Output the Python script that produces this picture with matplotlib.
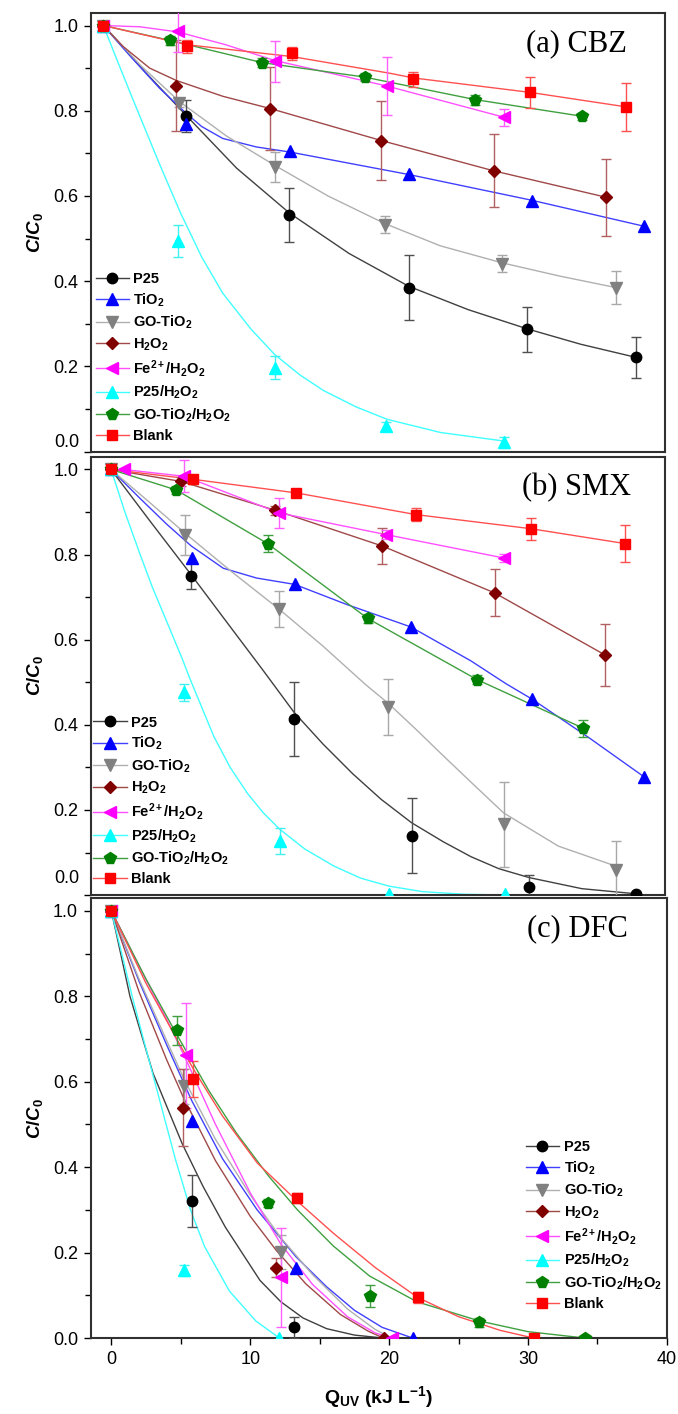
import numpy as np
import matplotlib.pyplot as plt
from matplotlib.lines import Line2D
from matplotlib.ticker import MultipleLocator

plt.rcParams['font.family'] = ['Liberation Sans', 'DejaVu Sans']
plt.rcParams['mathtext.fontset'] = 'custom'
plt.rcParams['mathtext.rm'] = 'Liberation Sans:bold'
plt.rcParams['mathtext.bf'] = 'Liberation Sans:bold'
plt.rcParams['mathtext.it'] = 'Liberation Sans:italic:bold'
plt.rcParams['mathtext.default'] = 'bf'

# series, in legend order
labels = ['P25', 'TiO$_2$', 'GO-TiO$_2$', 'H$_2$O$_2$', 'Fe$^{2+}$/H$_2$O$_2$',
          'P25/H$_2$O$_2$', 'GO-TiO$_2$/H$_2$O$_2$', 'Blank']
markers = ['o', '^', 'v', 'D', '<', '^', 'p', 's']
msizes = [7.5, 8, 8, 6.5, 8, 8, 8.5, 6.5]
mcolors = ['#000000', '#0000ff', '#808080', '#800000', '#ff00ff', '#00ffff', '#008000', '#ff0000']
lcolors = ['#404040', '#4040ff', '#b0b0b0', '#a04848', '#ff50ff', '#40ffff', '#40a040', '#ff5050']
ecolors = ['#505050', '#6060ff', '#a8a8a8', '#b06060', '#ff60ff', '#40f0f0', '#40a040', '#ff5050']

# ---------------- (a) CBZ ----------------
cbz_x = [[0, 5.87, 13.25, 21.75, 30.2, 37.96],
         [0, 5.87, 13.3, 21.8, 30.5, 38.5],
         [0, 5.4, 12.2, 20.06, 28.4, 36.5],
         [0, 5.2, 11.9, 19.8, 27.8, 35.8],
         [0, 5.3, 12.2, 20.2, 28.5],
         [0, 5.35, 12.2, 20.1, 28.5],
         [0, 4.75, 11.3, 18.6, 26.5, 34.1],
         [0, 5.94, 13.46, 22.08, 30.4, 37.25]]
cbz_y = [[1.0, 0.787, 0.555, 0.385, 0.287, 0.221],
         [1.0, 0.77, 0.705, 0.652, 0.589, 0.529],
         [1.0, 0.818, 0.668, 0.533, 0.441, 0.385],
         [1.0, 0.859, 0.805, 0.73, 0.659, 0.597],
         [1.0, 0.988, 0.916, 0.859, 0.785],
         [1.0, 0.494, 0.197, 0.06, 0.0215],
         [1.0, 0.965, 0.913, 0.879, 0.826, 0.787],
         [1.0, 0.951, 0.935, 0.874, 0.843, 0.809]]
cbz_err = [[0, 0.038, 0.064, 0.076, 0.053, 0.048],
           [0, 0, 0, 0, 0, 0],
           [0, 0.01, 0.035, 0.02, 0.02, 0.038],
           [0, 0.107, 0.097, 0.093, 0.086, 0.09],
           [0, 0.05, 0.048, 0.068, 0.02],
           [0, 0.037, 0.027, 0.01, 0.013],
           [0, 0.01, 0.01, 0.01, 0.012, 0.008],
           [0, 0.015, 0.015, 0.018, 0.036, 0.056]]
cbz_fit_x = [[0, 3, 5.87, 9.5, 13.25, 17.5, 21.75, 26, 30.2, 34, 37.96],
             [0, 2, 4, 5.87, 7, 8.5, 10.9, 13.3, 21.8, 30.5, 38.5],
             [0, 2.7, 5.4, 8.8, 12.2, 16, 20.06, 24, 28.4, 32.5, 36.5],
             [0, 1.4, 3.3, 5.2, 8.5, 11.9, 19.8, 27.8, 35.8],
             [0, 2.6, 5.3, 8.7, 12.2, 20.2, 28.5],
             [0, 1, 2, 3, 4, 5.5, 7, 8.5, 10.5, 12.2, 14, 15.7, 18, 20.2, 24, 28.5],
             [0, 4.75, 11.3, 18.6, 26.5, 34.1],
             [0, 5.94, 13.46, 20.4, 22.08, 30.4, 37.25]]
cbz_fit_y = [[1.0, 0.89, 0.79, 0.665, 0.56, 0.465, 0.388, 0.333, 0.288, 0.252, 0.221],
             [1.0, 0.925, 0.853, 0.795, 0.763, 0.735, 0.715, 0.703, 0.65, 0.59, 0.529],
             [1.0, 0.905, 0.822, 0.74, 0.672, 0.6, 0.535, 0.483, 0.443, 0.412, 0.385],
             [1.0, 0.951, 0.9, 0.871, 0.834, 0.805, 0.73, 0.659, 0.597],
             [1.0, 0.997, 0.985, 0.955, 0.918, 0.858, 0.785],
             [1.0, 0.917, 0.835, 0.755, 0.675, 0.56, 0.457, 0.372, 0.288, 0.228, 0.18, 0.143, 0.105, 0.076, 0.045, 0.025],
             [1.0, 0.965, 0.913, 0.879, 0.826, 0.787],
             [1.0, 0.955, 0.927, 0.888, 0.877, 0.843, 0.809]]

# ---------------- (b) SMX ----------------
smx_x = [[0, 5.8, 13.2, 21.7, 30.2, 37.94],
         [0, 5.87, 13.26, 21.65, 30.42, 38.48],
         [0, 5.35, 12.13, 20.0, 28.35, 36.45],
         [0, 5.04, 11.87, 19.6, 27.7, 35.68],
         [0.9, 5.3, 12.13, 19.86, 28.37],
         [0, 5.27, 12.17, 20.06, 28.45],
         [0, 4.7, 11.3, 18.53, 26.45, 34.1],
         [0, 5.9, 13.38, 22.01, 30.29, 37.1]]
smx_y = [[1.0, 0.75, 0.414, 0.139, 0.018, 0.003],
         [1.0, 0.792, 0.732, 0.631, 0.46, 0.278],
         [1.0, 0.845, 0.672, 0.442, 0.166, 0.06],
         [1.0, 0.972, 0.904, 0.82, 0.71, 0.564],
         [1.0, 0.984, 0.898, 0.847, 0.792],
         [1.0, 0.476, 0.127, 0.003, 0.003],
         [1.0, 0.952, 0.826, 0.65, 0.506, 0.392],
         [1.0, 0.977, 0.945, 0.894, 0.861, 0.826]]
smx_err = [[0, 0.031, 0.087, 0.088, 0.03, 0],
           [0, 0, 0, 0, 0, 0],
           [0, 0.047, 0.042, 0.066, 0.1, 0.068],
           [0, 0.01, 0.01, 0.043, 0.055, 0.072],
           [0, 0.038, 0.035, 0.01, 0.01],
           [0, 0.02, 0.03, 0, 0],
           [0, 0.01, 0.02, 0.01, 0.01, 0.02],
           [0, 0.01, 0.01, 0.016, 0.026, 0.044]]
smx_fit_x = [[0, 2.9, 5.8, 8.5, 11, 13.2, 15.3, 17.45, 19.5, 21.7, 24, 26, 28, 30.2, 34, 37.9],
             [0, 2, 4, 5.8, 8.1, 10.5, 13.26, 17, 21.65, 26, 28.5, 30.42, 34.5, 38.48],
             [0, 2.7, 5.35, 8.7, 12.13, 15.3, 18.4, 20, 22, 24, 26, 28.35, 32.3, 36.45],
             [0, 5.04, 11.87, 19.6, 27.7, 35.68],
             [0.9, 5.3, 12.13, 19.86, 28.37],
             [0, 1, 2.1, 3, 4.03, 5.14, 5.7, 6.5, 7.43, 8.6, 9.87, 11, 12.17, 14, 16.1, 18, 20.06, 22.5, 25.5, 28.45],
             [0, 4.7, 11.3, 18.53, 26.45, 34.1],
             [0, 5.9, 13.38, 22.01, 30.29, 37.1]]
smx_fit_y = [[1.0, 0.875, 0.752, 0.635, 0.527, 0.43, 0.355, 0.285, 0.225, 0.17, 0.125, 0.09, 0.062, 0.041, 0.015, 0.003],
             [1.0, 0.935, 0.872, 0.82, 0.768, 0.745, 0.73, 0.683, 0.63, 0.55, 0.497, 0.46, 0.37, 0.278],
             [1.0, 0.925, 0.85, 0.76, 0.672, 0.585, 0.494, 0.451, 0.39, 0.327, 0.265, 0.193, 0.115, 0.068],
             [1.0, 0.972, 0.904, 0.82, 0.71, 0.564],
             [1.0, 0.984, 0.898, 0.847, 0.792],
             [1.0, 0.9, 0.8, 0.722, 0.642, 0.555, 0.508, 0.445, 0.372, 0.3, 0.238, 0.193, 0.155, 0.108, 0.068, 0.04, 0.021, 0.008, 0.002, 0.0],
             [1.0, 0.952, 0.826, 0.65, 0.506, 0.392],
             [1.0, 0.977, 0.945, 0.894, 0.861, 0.826]]

# ---------------- (c) DFC ----------------
dfc_x = [[0, 5.78, 13.16],
         [0, 5.8, 13.3, 21.7],
         [0, 5.25, 12.2],
         [0, 5.16, 11.88, 19.6],
         [0, 5.4, 12.2, 20.2],
         [0, 5.25, 12.1],
         [0, 4.72, 11.3, 18.6, 26.5, 34.1],
         [0, 5.9, 13.4, 22.06, 30.4]]
dfc_y = [[1.0, 0.32, 0.025],
         [1.0, 0.509, 0.163, 0.0],
         [1.0, 0.589, 0.202],
         [1.0, 0.539, 0.165, 0.0],
         [1.0, 0.662, 0.142, 0.0],
         [1.0, 0.159, 0.0],
         [1.0, 0.72, 0.316, 0.099, 0.037, 0.0],
         [1.0, 0.607, 0.328, 0.096, 0.0]]
dfc_err = [[0, 0.061, 0.025],
           [0, 0, 0, 0],
           [0, 0.04, 0.04],
           [0, 0.09, 0.022, 0],
           [0, 0.123, 0.115, 0],
           [0, 0.013, 0],
           [0, 0.035, 0.01, 0.026, 0.01, 0],
           [0, 0.042, 0.012, 0.013, 0]]
dfc_fit_x = [[0, 1.34, 3, 5.1, 6.6, 8.2, 10.7, 12.2, 13.8, 15.5, 17.5, 19.6],
             [0, 2, 4, 5.8, 8, 10.5, 13.3, 15.5, 17.5, 19.5, 21.7],
             [0, 2, 4, 5.25, 7.5, 10, 12.2, 14.5, 17, 19, 20.2],
             [0, 2, 4, 5.16, 7.5, 10, 11.88, 14, 16.5, 18.5, 19.6],
             [0, 2, 4, 5.4, 7.5, 10, 12.2, 14.5, 17, 19, 20.2],
             [0, 1.5, 3, 4.6, 5.7, 6.7, 8.5, 10.4, 12.1],
             [0, 2.5, 4.72, 7, 9, 11.3, 13.4, 16, 18.6, 22, 26.5, 30, 34.1],
             [0, 2.5, 5.9, 8, 10.5, 13.4, 16, 19, 22.06, 25, 28, 30.4]]
dfc_fit_y = [[1.0, 0.8, 0.62, 0.455, 0.355, 0.26, 0.135, 0.085, 0.047, 0.022, 0.007, 0.0],
             [1.0, 0.835, 0.685, 0.555, 0.42, 0.3, 0.19, 0.12, 0.065, 0.025, 0.0],
             [1.0, 0.84, 0.695, 0.605, 0.465, 0.335, 0.235, 0.148, 0.068, 0.02, 0.0],
             [1.0, 0.81, 0.65, 0.565, 0.415, 0.285, 0.205, 0.127, 0.055, 0.016, 0.0],
             [1.0, 0.87, 0.745, 0.65, 0.5, 0.34, 0.22, 0.125, 0.05, 0.012, 0.0],
             [1.0, 0.8, 0.615, 0.42, 0.3, 0.215, 0.11, 0.04, 0.0],
             [1.0, 0.84, 0.71, 0.58, 0.48, 0.38, 0.3, 0.215, 0.145, 0.085, 0.04, 0.015, 0.0],
             [1.0, 0.83, 0.63, 0.52, 0.41, 0.32, 0.245, 0.165, 0.095, 0.05, 0.018, 0.0]]


def draw_panel(ax, xs, ys, errs, fxs, fys, xlim, title, leg_anchor, zero_shift):
    for i in range(len(labels)):
        x = np.array(xs[i])
        y = np.array(ys[i])
        e = np.array(errs[i])
        ax.plot(fxs[i], fys[i], color=lcolors[i], lw=1.0, zorder=2)
        m = e > 0
        if m.any():
            ax.errorbar(x[m], y[m], yerr=e[m], fmt='none', ecolor=ecolors[i],
                        elinewidth=1.0, capsize=3.5, capthick=1.0, zorder=3)
        ax.plot(x, y, ls='none', marker=markers[i], ms=msizes[i],
                mfc=mcolors[i], mec=mcolors[i], zorder=4)
    ax.set_xlim(xlim)
    ax.set_ylim(0, 1.03)
    ax.set_yticks([0, 0.2, 0.4, 0.6, 0.8, 1.0])
    ax.yaxis.set_minor_locator(MultipleLocator(0.1))
    ax.xaxis.set_minor_locator(MultipleLocator(5))
    ax.tick_params(which='both', direction='out', width=1.0, labelsize=13)
    ax.tick_params(which='major', length=5, pad=4)
    ax.tick_params(which='minor', length=4)
    for s in ax.spines.values():
        s.set_linewidth(1.5)
        s.set_color('#303030')
    if zero_shift is not None:
        ax.set_yticklabels(['', '0.2', '0.4', '0.6', '0.8', '1.0'])
        ax.annotate('0.0', xy=(0, 0), xycoords='axes fraction',
                    xytext=(-12, zero_shift), textcoords='offset pixels',
                    ha='right', va='center', fontsize=13)
        ax.tick_params(axis='x', which='both', bottom=False, labelbottom=False)
    else:
        ax.set_yticklabels(['0.0', '0.2', '0.4', '0.6', '0.8', '1.0'])
    ax.set_ylabel(r'$\mathit{C/C}_\mathbf{0}$', fontsize=13.5, labelpad=6)
    ax.text(0.845, 0.93, title, transform=ax.transAxes, ha='center', va='center',
            fontsize=22, family='Liberation Serif')
    handles = [Line2D([], [], color=lcolors[i], lw=1.0, marker=markers[i],
                      ms=msizes[i], mfc=mcolors[i], mec=mcolors[i])
               for i in range(len(labels))]
    ax.legend(handles, labels, loc='lower left', bbox_to_anchor=leg_anchor,
              frameon=False, borderpad=0, borderaxespad=0, handlelength=2.3,
              handletextpad=0.3, labelspacing=0.35,
              prop={'weight': 'bold', 'size': 10.5})


fig = plt.figure(figsize=(6.78, 14.14), dpi=100)
ax_a = fig.add_axes([0.1342, 0.6806, 0.8466, 0.3104])
ax_b = fig.add_axes([0.1342, 0.3670, 0.8466, 0.3100])
ax_c = fig.add_axes([0.1335, 0.0537, 0.8502, 0.3112])

draw_panel(ax_a, cbz_x, cbz_y, cbz_err, cbz_fit_x, cbz_fit_y, (-0.88, 40.0),
           '(a) CBZ', (0.008, 0.02), 9)
draw_panel(ax_b, smx_x, smx_y, smx_err, smx_fit_x, smx_fit_y, (-1.45, 40.0),
           '(b) SMX', (0.004, 0.02), 17)
draw_panel(ax_c, dfc_x, dfc_y, dfc_err, dfc_fit_x, dfc_fit_y, (-1.5, 40.0),
           '(c) DFC', (0.755, 0.062), None)

ax_c.set_xticks([0, 10, 20, 30, 40])
ax_c.set_xlabel(r'Q$_{\mathbf{UV}}$ (kJ L$^{\mathbf{-1}}$)', fontsize=14,
                fontweight='bold', labelpad=12)

fig.savefig('out.png', dpi=100)
